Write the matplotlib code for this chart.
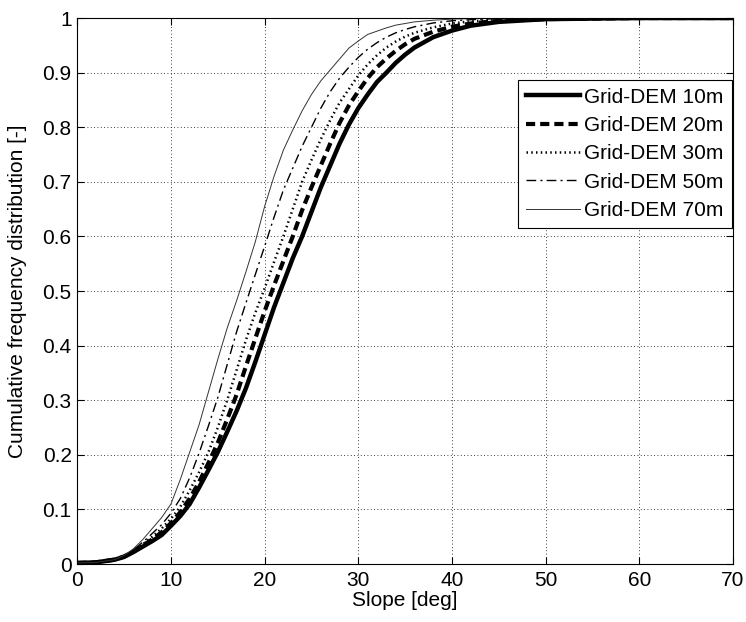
import matplotlib
matplotlib.use("Agg")
import matplotlib.pyplot as plt

plt.rcParams['font.family'] = ['Liberation Sans', 'DejaVu Sans']

slope = [0, 2, 4, 5, 6, 7, 8, 9, 10, 11, 12, 13, 14, 15, 16, 17, 18, 19, 20,
         21, 22, 23, 24, 25, 26, 27, 28, 29, 30, 31, 32, 33, 34, 35, 36, 38,
         40, 42, 45, 50, 55, 60, 70]

cdf_10m = [0.002, 0.003, 0.008, 0.013, 0.022, 0.032, 0.042, 0.053, 0.07, 0.088,
           0.11, 0.14, 0.172, 0.205, 0.242, 0.28, 0.322, 0.37, 0.42, 0.47, 0.515,
           0.56, 0.6, 0.645, 0.69, 0.73, 0.77, 0.805, 0.835, 0.86, 0.883, 0.9,
           0.918, 0.933, 0.946, 0.965, 0.977, 0.986, 0.993, 0.998, 0.999, 1.0, 1.0]
cdf_20m = [0.002, 0.003, 0.008, 0.014, 0.023, 0.034, 0.045, 0.058, 0.075, 0.095,
           0.12, 0.15, 0.185, 0.222, 0.265, 0.31, 0.362, 0.413, 0.463, 0.51, 0.555,
           0.6, 0.648, 0.69, 0.73, 0.77, 0.808, 0.84, 0.866, 0.89, 0.91, 0.926,
           0.94, 0.952, 0.962, 0.975, 0.984, 0.99, 0.995, 0.998, 0.999, 1.0, 1.0]
cdf_30m = [0.002, 0.003, 0.008, 0.014, 0.024, 0.036, 0.05, 0.065, 0.083, 0.105,
           0.135, 0.168, 0.205, 0.25, 0.3, 0.355, 0.41, 0.46, 0.505, 0.553, 0.6,
           0.65, 0.7, 0.74, 0.778, 0.813, 0.845, 0.87, 0.895, 0.915, 0.932, 0.946,
           0.957, 0.966, 0.973, 0.983, 0.99, 0.994, 0.997, 0.999, 1.0, 1.0, 1.0]
cdf_50m = [0.002, 0.003, 0.008, 0.015, 0.026, 0.04, 0.056, 0.072, 0.093, 0.12,
           0.158, 0.203, 0.253, 0.305, 0.365, 0.425, 0.478, 0.53, 0.582, 0.635, 0.685,
           0.725, 0.765, 0.8, 0.835, 0.865, 0.89, 0.91, 0.928, 0.943, 0.955, 0.965,
           0.973, 0.979, 0.984, 0.991, 0.995, 0.997, 0.999, 1.0, 1.0, 1.0, 1.0]
cdf_70m = [0.002, 0.003, 0.008, 0.016, 0.028, 0.045, 0.065, 0.085, 0.11, 0.155,
           0.205, 0.255, 0.315, 0.375, 0.432, 0.482, 0.535, 0.59, 0.655, 0.71, 0.758,
           0.795, 0.83, 0.86, 0.885, 0.905, 0.925, 0.945, 0.958, 0.97, 0.976, 0.982,
           0.987, 0.99, 0.993, 0.996, 0.998, 0.999, 1.0, 1.0, 1.0, 1.0, 1.0]

labels = ['Grid-DEM 10m', 'Grid-DEM 20m', 'Grid-DEM 30m', 'Grid-DEM 50m', 'Grid-DEM 70m']
x_ticks = [0, 10, 20, 30, 40, 50, 60, 70]
y_ticks = [0, 0.1, 0.2, 0.3, 0.4, 0.5, 0.6, 0.7, 0.8, 0.9, 1]
y_tick_labels = ['0', '0.1', '0.2', '0.3', '0.4', '0.5', '0.6', '0.7', '0.8', '0.9', '1']

fig = plt.figure(figsize=(7.46, 6.22), dpi=100)
ax = fig.add_axes([0.1036, 0.0932, 0.8790, 0.8778])

ax.plot(slope, cdf_10m, color='black', lw=3.2, ls='-', label=labels[0])
ax.plot(slope, cdf_20m, color='black', lw=3.0, ls=(0, (2.2, 1.2)), label=labels[1])
ax.plot(slope, cdf_30m, color='black', lw=1.8, ls=(0, (0.6, 1.3)), label=labels[2])
ax.plot(slope, cdf_50m, color='black', lw=1.0, ls=(0, (7, 3, 1.5, 3)), label=labels[3])
ax.plot(slope, cdf_70m, color='#333333', lw=0.7, ls='-', label=labels[4])

ax.set_xlim(0, 70)
ax.set_ylim(0, 1)
ax.set_xticks(x_ticks)
ax.set_yticks(y_ticks)
ax.set_yticklabels(y_tick_labels)
ax.tick_params(direction='in', top=True, right=True, labelsize=15, length=5)
ax.tick_params(axis='x', pad=5)
ax.tick_params(axis='y', pad=4)
ax.grid(True, color='black', ls=(0, (1, 3)), lw=0.6)
for s in ax.spines.values():
    s.set_linewidth(0.8)

ax.set_xlabel('Slope [deg]', fontsize=15, labelpad=1)
ax.set_ylabel('Cumulative frequency distribution [-]', fontsize=15, labelpad=11)

leg = ax.legend(loc='upper right', bbox_to_anchor=(0.998, 0.887), fontsize=15,
                fancybox=False, framealpha=1, edgecolor='black',
                handlelength=2.6, handletextpad=0.2, borderaxespad=0,
                labelspacing=0.45, borderpad=0.38)
leg.get_frame().set_linewidth(0.8)

fig.savefig('out.png', dpi=100)
